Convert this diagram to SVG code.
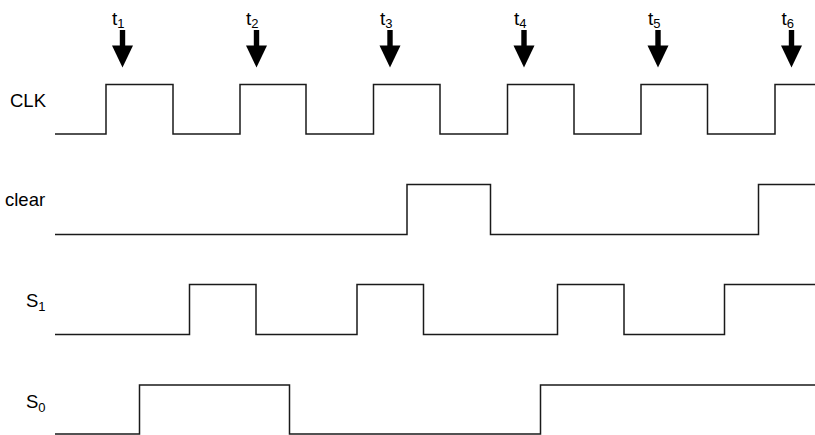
<svg xmlns="http://www.w3.org/2000/svg" width="815" height="435" viewBox="0 0 815 435">
<defs>
<style>
.lbl{font-family:"Liberation Sans",Arial,sans-serif;font-size:18.5px;fill:#000}
.tl{font-family:"Liberation Sans",Arial,sans-serif;font-size:19px;fill:#000}
.sub{font-size:13px}
.sig{fill:none;stroke:#1a1a1a;stroke-width:1.5}
.arr{fill:#000}
</style>
<g id="arrow">
<rect x="-2.7" y="30" width="5.4" height="17" class="arr"/>
<polygon points="-10.5,45.5 10.5,45.5 0,67.5" class="arr"/>
</g>
</defs>
<g id="labels">
<text class="lbl" x="10" y="107">CLK</text>
<text class="lbl" x="5" y="206">clear</text>
<text class="lbl" x="26" y="307">S<tspan class="sub" dy="4">1</tspan></text>
<text class="lbl" x="26" y="408">S<tspan class="sub" dy="4">0</tspan></text>
</g>
<g id="markers">
<g id="t1"><use href="#arrow" x="122.5"/><text class="tl" x="112" y="25">t<tspan class="sub" dy="3">1</tspan></text></g>
<g id="t2"><use href="#arrow" x="256.5"/><text class="tl" x="246" y="25">t<tspan class="sub" dy="3">2</tspan></text></g>
<g id="t3"><use href="#arrow" x="390"/><text class="tl" x="380" y="25">t<tspan class="sub" dy="3">3</tspan></text></g>
<g id="t4"><use href="#arrow" x="524"/><text class="tl" x="514" y="25">t<tspan class="sub" dy="3">4</tspan></text></g>
<g id="t5"><use href="#arrow" x="658"/><text class="tl" x="648" y="25">t<tspan class="sub" dy="3">5</tspan></text></g>
<g id="t6"><use href="#arrow" x="791.5"/><text class="tl" x="781.5" y="25">t<tspan class="sub" dy="3">6</tspan></text></g>
</g>
<g id="waveforms">
<path id="clk" class="sig" d="M55,134 H106 V84.5 H173 V134 H240 V84.5 H306 V134 H373.5 V84.5 H440 V134 H507.5 V84.5 H574 V134 H641 V84.5 H707.5 V134 H775 V84.5 H815"/>
<path id="clear" class="sig" d="M55,234.5 H407 V184.5 H490.5 V234.5 H758.5 V184.5 H815"/>
<path id="s1" class="sig" d="M55,334.5 H189.5 V284.5 H256 V334.5 H357 V284.5 H423.5 V334.5 H557.5 V284.5 H624 V334.5 H724.5 V284.5 H815"/>
<path id="s0" class="sig" d="M55,434 H139.5 V385 H289.5 V434 H540.5 V385 H815"/>
</g>
</svg>
